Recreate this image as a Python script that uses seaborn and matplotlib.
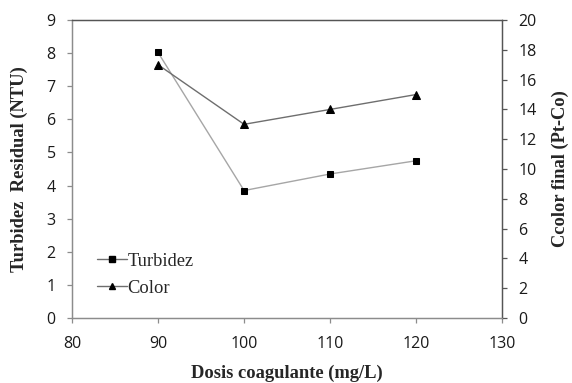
import matplotlib
matplotlib.use("Agg")
import matplotlib.pyplot as plt
import seaborn as sns
import pandas as pd
from matplotlib.lines import Line2D

# Coagulant dose (mg/L) and measured responses
dosis = [90, 100, 110, 120]
turbidez = [8.02, 3.85, 4.35, 4.75]   # NTU, left axis
color = [17.0, 13.0, 14.0, 15.0]      # Pt-Co, right axis

x_ticks = [80, 90, 100, 110, 120, 130]
y_left_ticks = list(range(0, 10))
y_right_ticks = list(range(0, 21, 2))

sns.set_style("white")
plt.rcParams["font.family"] = ["Open Sans", "DejaVu Sans"]

df = pd.DataFrame({"dosis": dosis, "turbidez": turbidez, "color": color})

fig = plt.figure(figsize=(5.72, 3.83), dpi=100)
ax = fig.add_axes([0.1259, 0.1697, 0.752, 0.778])
ax2 = ax.twinx()

sns.lineplot(data=df, x="dosis", y="turbidez", ax=ax, color="#a6a6a6", lw=1.0,
             marker="s", markersize=4.8, markerfacecolor="black",
             markeredgecolor="black", legend=False)
sns.lineplot(data=df, x="dosis", y="color", ax=ax2, color="#6e6e6e", lw=1.0,
             marker="^", markersize=5.5, markerfacecolor="black",
             markeredgecolor="black", legend=False)

ax.set_xlim(80, 130)
ax.set_ylim(0, 9)
ax2.set_ylim(0, 20)
ax.set_xticks(x_ticks)
ax.set_yticks(y_left_ticks)
ax2.set_yticks(y_right_ticks)

light = "#8c8c8c"
dark = "#555555"
for a in (ax, ax2):
    a.spines["left"].set_color(light)
    a.spines["bottom"].set_color(light)
    a.spines["top"].set_color(dark)
    a.spines["right"].set_color(dark)
    for s in a.spines.values():
        s.set_linewidth(0.9)
    a.tick_params(labelcolor="#1a1a1a", labelsize=11.5,
                  length=3.8, width=0.9, direction="out", pad=8)

ax.tick_params(axis="both", left=True, bottom=True, color=light)
ax.tick_params(axis="x", pad=9.5)
ax2.tick_params(axis="y", right=True, color=dark)

serif = ["Liberation Serif", "DejaVu Serif"]
ax.set_xlabel("Dosis coagulante (mg/L)", family=serif, fontweight="bold",
              fontsize=13.3, labelpad=9)
ax.set_ylabel("Turbidez  Residual (NTU)", family=serif, fontweight="bold",
              fontsize=13.3, labelpad=13)
ax2.set_ylabel("Ccolor final (Pt-Co)", family=serif, fontweight="bold",
               fontsize=13.3, labelpad=11)

handles = [
    Line2D([], [], color="#6e6e6e", lw=1.0, marker="s", markersize=4.5,
           markerfacecolor="black", markeredgecolor="black"),
    Line2D([], [], color="#6e6e6e", lw=1.0, marker="^", markersize=5,
           markerfacecolor="black", markeredgecolor="black"),
]
leg = ax2.legend(handles, ["Turbidez", "Color"], loc="lower left",
                 bbox_to_anchor=(0.02, 0.015), frameon=False,
                 handlelength=1.6, handletextpad=0.05, labelspacing=0.55,
                 prop={"family": serif, "size": 13.3})

fig.savefig("out.png", dpi=100)
